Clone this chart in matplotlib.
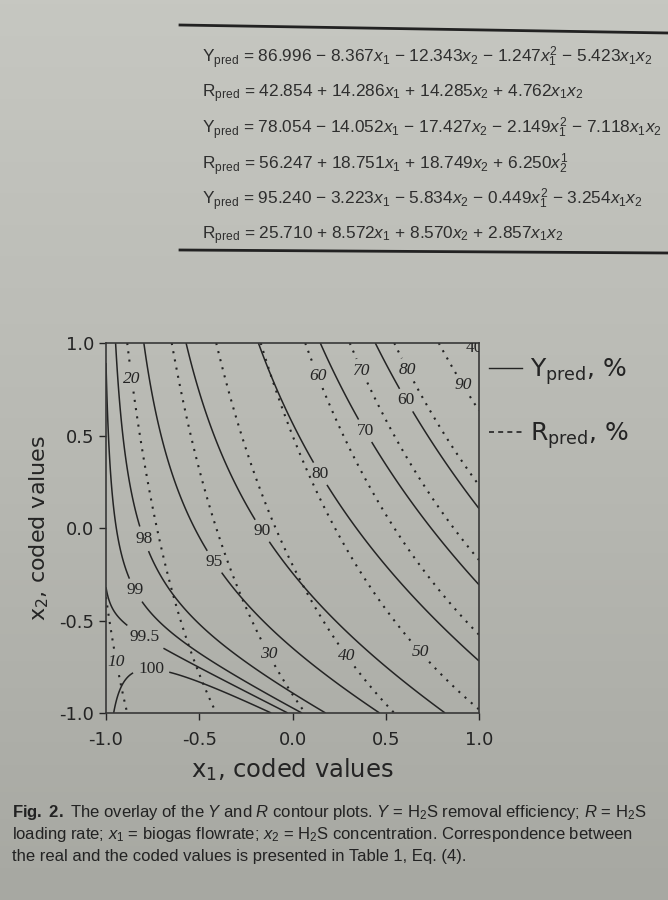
import numpy as np
import matplotlib.pyplot as plt
from matplotlib.lines import Line2D
from matplotlib.colors import LinearSegmentedColormap

# model coefficients as printed in the table (first Y / R pair)
# order: const, x1, x2, x1^2, x1*x2
y_coef = [86.996, -8.367, -12.343, -1.247, -5.423]
r_coef = [42.854, 14.286, 14.285, 0.0, 4.762]
# x1 on the plotted axis is stretched compared to the equation units
x1_scale = 2.2

y_levels = [40, 60, 70, 80, 90, 95, 98, 99, 99.5, 100]
r_levels = [10, 20, 30, 40, 50, 60, 70, 80, 90]
ticks = [-1.0, -0.5, 0.0, 0.5, 1.0]

equations = [
    r"$\mathrm{Y_{pred}}$ = 86.996 − 8.367$x_1$ − 12.343$x_2$ − 1.247$x_1^2$ − 5.423$x_1x_2$",
    r"$\mathrm{R_{pred}}$ = 42.854 + 14.286$x_1$ + 14.285$x_2$ + 4.762$x_1x_2$",
    r"$\mathrm{Y_{pred}}$ = 78.054 − 14.052$x_1$ − 17.427$x_2$ − 2.149$x_1^2$ − 7.118$x_1x_2$",
    r"$\mathrm{R_{pred}}$ = 56.247 + 18.751$x_1$ + 18.749$x_2$ + 6.250$x_2^1$",
    r"$\mathrm{Y_{pred}}$ = 95.240 − 3.223$x_1$ − 5.834$x_2$ − 0.449$x_1^2$ − 3.254$x_1x_2$",
    r"$\mathrm{R_{pred}}$ = 25.710 + 8.572$x_1$ + 8.570$x_2$ + 2.857$x_1x_2$",
]

caption = [
    r"$\mathbf{Fig.\ 2.}$ The overlay of the $Y$ and $R$ contour plots. $Y$ = H$_2$S removal efficiency; $R$ = H$_2$S",
    r"loading rate; $x_1$ = biogas flowrate; $x_2$ = H$_2$S concentration. Correspondence between",
    r"the real and the coded values is presented in Table 1, Eq. (4).",
]

# where the contour labels sit
y_label_pos = [(-0.80, -0.06), (-0.83, -0.33), (-0.79, -0.59), (-0.76, -0.79),
               (-0.43, -0.19), (-0.17, -0.02), (0.16, 0.30), (0.38, 0.52),
               (0.59, 0.68), (0.935, 0.95)]
r_label_pos = [(-0.84, 0.81), (0.13, 0.82), (0.35, 0.84), (0.59, 0.84),
               (0.87, 0.745), (-0.91, -0.72), (-0.14, -0.685),
               (0.28, -0.70), (0.67, -0.685)]

plt.rcParams['mathtext.fontset'] = 'custom'
plt.rcParams['mathtext.rm'] = 'Liberation Sans'
plt.rcParams['mathtext.it'] = 'Liberation Sans:italic'
plt.rcParams['mathtext.bf'] = 'Liberation Sans:bold'

INK = '#242424'
W, H = 668, 900
fig = plt.figure(figsize=(W / 100, H / 100), dpi=100)

# page background
bg = fig.add_axes([0, 0, 1, 1], zorder=-10)
page = LinearSegmentedColormap.from_list('page', ['#c6c7c1', '#b8b9b3', '#a7a8a2'])
bg.imshow(np.linspace(0, 1, 200)[:, None], cmap=page, aspect='auto', extent=[0, 1, 0, 1])
bg.axis('off')


def surface(c, x1, x2):
    return c[0] + c[1] * x1 + c[2] * x2 + c[3] * x1 ** 2 + c[4] * x1 * x2


gx, gy = np.meshgrid(np.linspace(-1, 1, 401), np.linspace(-1, 1, 401))
Y = surface(y_coef, gx * x1_scale, gy)
R = surface(r_coef, gx * x1_scale, gy)

ax = fig.add_axes([106 / W, 1 - 713 / H, 373 / W, 370 / H])
ax.set_facecolor('none')

cs_y = ax.contour(gx, gy, Y, levels=y_levels, colors=INK, linewidths=1.1)
cs_r = ax.contour(gx, gy, R, levels=r_levels, colors=INK, linewidths=1.5,
                  linestyles=[(0, (1, 3))])

lab_y = ax.clabel(cs_y, manual=y_label_pos, inline=True, inline_spacing=2,
                  fmt=lambda v: f'{v:g}', fontsize=12.5)
lab_r = ax.clabel(cs_r, manual=r_label_pos, inline=True, inline_spacing=2,
                  fmt=lambda v: f'{v:g}', fontsize=12.5)

for t in lab_y:
    t.set_rotation(0)
    t.set_family('Liberation Serif')
    t.set_color(INK)
for t in lab_r:
    t.set_rotation(0)
    t.set_family('Liberation Serif')
    t.set_style('italic')
    t.set_color(INK)

ax.set_xlim(-1, 1)
ax.set_ylim(-1, 1)
ax.set_xticks(ticks)
ax.set_yticks(ticks)
ax.set_xticklabels([f'{t:.1f}' for t in ticks])
ax.set_yticklabels([f'{t:.1f}' for t in ticks])
ax.tick_params(labelsize=13, colors=INK, length=5, width=1)
ax.tick_params(axis='x', pad=8)
for s in ax.spines.values():
    s.set_color('#383838')
    s.set_linewidth(1.2)
ax.set_xlabel(r'x$_\mathregular{1}$, coded values', fontsize=17.5, color=INK, labelpad=5)
ax.set_ylabel(r'x$_\mathregular{2}$, coded values', fontsize=16, color=INK, labelpad=6)

handles = [Line2D([], [], color=INK, lw=1.0),
           Line2D([], [], color=INK, lw=1.2, ls=(0, (3, 2.5)))]
ax.legend(handles, [r'$\mathregular{Y_{pred}}$, %', r'$\mathregular{R_{pred}}$, %'],
          loc='upper left', bbox_to_anchor=(1.0, 0.992), borderaxespad=0,
          frameon=False, fontsize=18, handlelength=1.3, handletextpad=0.35,
          labelspacing=1.35, labelcolor=INK)

# table rules and equations above the figure
fig.add_artist(Line2D([180 / W, 1], [1 - 25 / H, 1 - 33 / H], color='#222', lw=2))
fig.add_artist(Line2D([180 / W, 1], [1 - 250 / H, 1 - 253 / H], color='#222', lw=2))
for i, eq in enumerate(equations):
    fig.text(202 / W, 1 - (58 + 35.5 * i) / H, eq, fontsize=12.4, color='#2e2e2e',
             family='Liberation Sans', va='center')

for i, line in enumerate(caption):
    fig.text(12 / W, 1 - (813 + 22 * i) / H, line, fontsize=12, color='#222',
             family='Liberation Sans', va='center')

fig.savefig('out.png', dpi=100)
